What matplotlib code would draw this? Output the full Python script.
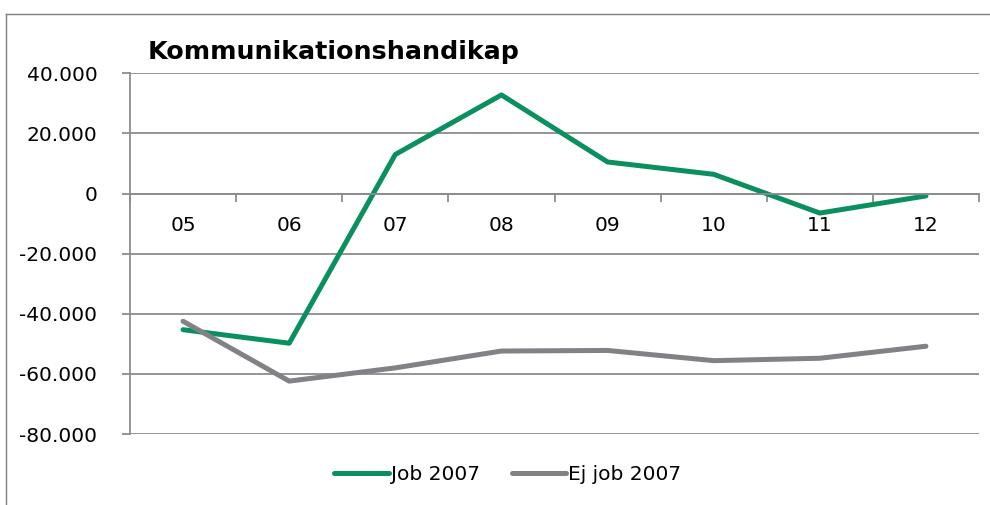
import matplotlib
matplotlib.use("Agg")
import matplotlib.pyplot as plt
from matplotlib.ticker import FuncFormatter, FixedLocator
from matplotlib.lines import Line2D

categories = ["05", "06", "07", "08", "09", "10", "11", "12"]
job_2007 = [-45300, -49800, 13000, 32800, 10500, 6400, -6500, -800]
ej_job_2007 = [-42500, -62400, -58000, -52400, -52200, -55600, -54800, -50800]
yticks = [-80000, -60000, -40000, -20000, 0, 20000, 40000]

GREEN = "#0a8f5f"
GREY = "#808285"
AXIS = "#8c8c8c"

plt.rcParams['font.family'] = ['DejaVu Sans']

fig = plt.figure(figsize=(9.9, 5.05), dpi=100)
# outer frame (top and left edges visible)
fig.lines.append(Line2D([5.5/990, 1.0], [1 - 13.5/505] * 2, transform=fig.transFigure,
                        color="#7f7f7f", linewidth=1.0))
fig.lines.append(Line2D([5.5/990] * 2, [0, 1 - 13.5/505], transform=fig.transFigure,
                        color="#7f7f7f", linewidth=1.0))

ax = fig.add_axes([130/990, 1 - 434/505, (979 - 130)/990, (434 - 73.3)/505])
x = list(range(len(categories)))
ax.plot(x, job_2007, color=GREEN, linewidth=3.6, label="Job 2007", solid_capstyle="round")
ax.plot(x, ej_job_2007, color=GREY, linewidth=3.6, label="Ej job 2007", solid_capstyle="round")

ax.set_xlim(-0.5, len(categories) - 0.5)
ax.set_ylim(-80000, 40000)
ax.set_yticks(yticks)
ax.yaxis.set_major_formatter(FuncFormatter(lambda v, p: f"{int(v):,}".replace(",", ".")))
ax.grid(axis="y", color=AXIS, linewidth=1.3)
ax.set_axisbelow(True)

for s in ["top", "right"]:
    ax.spines[s].set_visible(False)
ax.spines["left"].set_color(AXIS)
ax.spines["left"].set_linewidth(1.3)
ax.spines["bottom"].set_position(("data", 0))
ax.spines["bottom"].set_color(AXIS)
ax.spines["bottom"].set_linewidth(1.3)

ax.set_xticks(x)
ax.set_xticklabels(categories)
ax.xaxis.set_minor_locator(FixedLocator([i + 0.5 for i in range(-1, len(categories))]))
ax.tick_params(axis="x", which="major", length=0, pad=16, labelsize=14.5, colors="black")
ax.tick_params(axis="x", which="minor", length=6, width=1.3, color=AXIS, direction="out")
ax.tick_params(axis="y", length=6, width=1.3, color=AXIS, labelsize=14.5, pad=17.5,
               labelcolor="black")

fig.text(148/990, 1 - 52/505, "Kommunikationshandikap", fontsize=18.3, fontweight="bold",
         va="center", ha="left")

leg = ax.legend(loc="center", bbox_to_anchor=(508/990, 1 - 475/505), bbox_transform=fig.transFigure,
                ncol=2, frameon=False, fontsize=14.5, handlelength=2.7, handletextpad=0.1,
                columnspacing=1.6)

fig.savefig("out.png", dpi=100)
